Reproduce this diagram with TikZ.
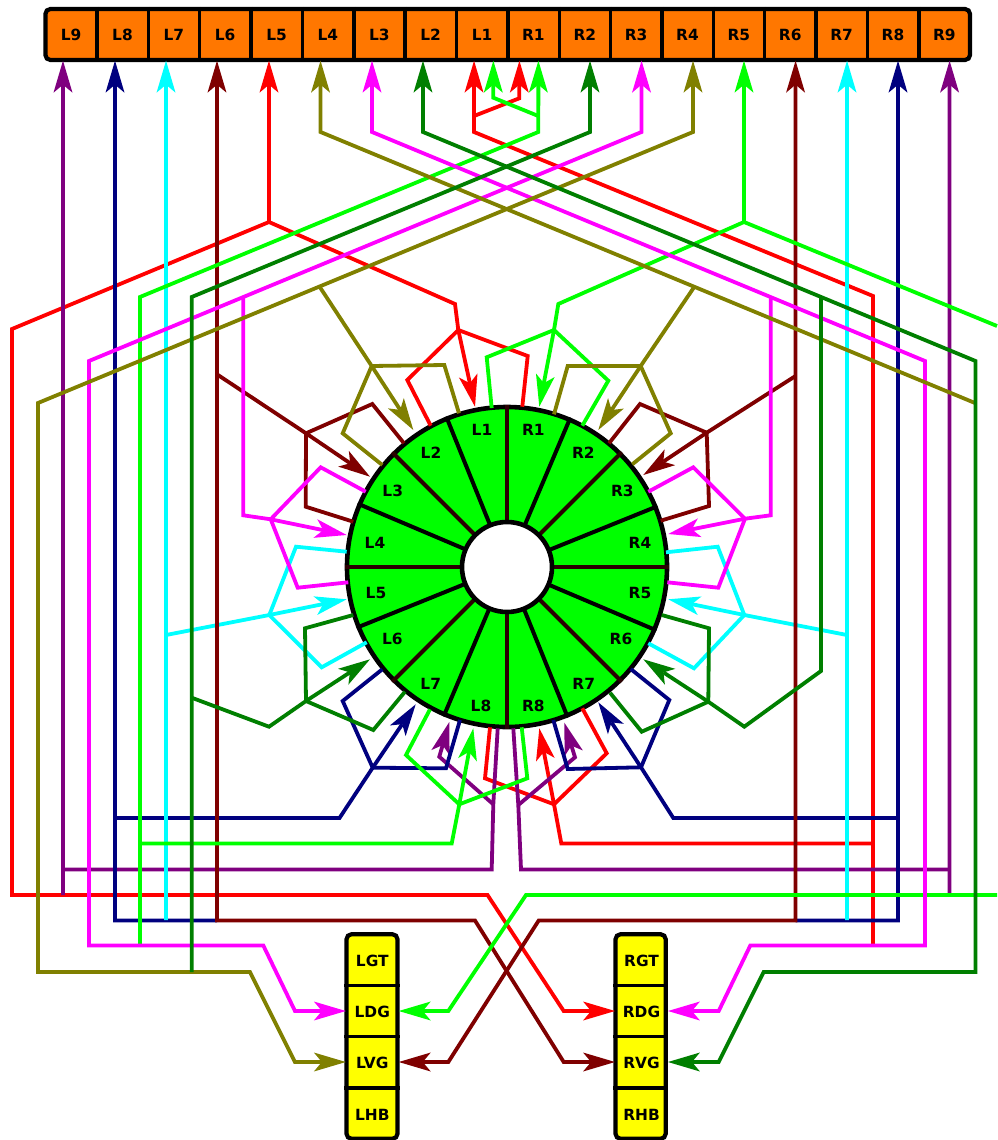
\documentclass[tikz,border=0pt]{standalone}
\usepackage{fontspec}
\setmainfont{DejaVu Sans}
\usetikzlibrary{arrows.meta}
\definecolor{wRed}{HTML}{FF0000}
\definecolor{wLime}{HTML}{00FF00}
\definecolor{wDark}{HTML}{007F00}
\definecolor{wMag}{HTML}{FF00FF}
\definecolor{wOlive}{HTML}{808000}
\definecolor{wMaroon}{HTML}{7F0000}
\definecolor{wCyan}{HTML}{00FFFF}
\definecolor{wNavy}{HTML}{00007F}
\definecolor{wPurple}{HTML}{7F007F}
\definecolor{stripOrange}{HTML}{FF7700}
\definecolor{ringGreen}{HTML}{00FF00}
\definecolor{barYellow}{HTML}{FFFF00}
\definecolor{darkSpoke}{HTML}{2A0000}
\tikzset{
  wire/.style={line width=3.8pt,line join=miter,miter limit=10},
  endtip/.style={-{Stealth[length=32pt,width=19pt,inset=8pt,line width=0pt]}},
  twotips/.style={{Stealth[length=32pt,width=19pt,inset=8pt,line width=0pt]}-{Stealth[length=32pt,width=19pt,inset=8pt,line width=0pt]}},
  lab/.style={font=\bfseries\fontsize{15.4}{17}\selectfont,text=black,inner sep=0pt},
  framebox/.style={draw=black,line width=4.2pt,rounded corners=5pt,inner sep=0pt},
  topcell/.style={lab,minimum width=51.37pt,minimum height=51pt},
  barcell/.style={lab,minimum width=52.5pt,minimum height=51pt,text height=13pt,text depth=0pt},
  divider/.style={draw=black,line width=3.4pt},
  spoke/.style={line width=4pt},
}
\begin{document}
\begin{tikzpicture}[x=1pt,y=-1pt]
\useasboundingbox (0,0) rectangle (997,1140);
% top strip
\node[framebox,fill=stripOrange,minimum width=924.6pt,minimum height=51pt] (strip) at (507.7,34.5) {};
\foreach \n [count=\i from 0] in {L9,L8,L7,L6,L5,L4,L3,L2,L1,R1,R2,R3,R4,R5,R6,R7,R8,R9}
  \node[topcell] (\n) at ({45.4+51.37*(\i+0.5)},35) {\n};
\foreach \n in {L9,L8,L7,L6,L5,L4,L3,L2,L1,R1,R2,R3,R4,R5,R6,R7,R8}
  \draw[divider] (\n.east |- strip.north) -- (\n.east |- strip.south);
% side bars
\node[framebox,fill=barYellow,minimum width=51pt,minimum height=204.5pt] (lbar) at (372,1036.5) {};
\node[framebox,fill=barYellow,minimum width=50.2pt,minimum height=204.5pt] (rbar) at (640.6,1036.5) {};
\foreach \n/\y in {LGT/960,LDG/1011,LVG/1062,LHB/1113.5}
  \node[barcell] (\n) at (372.3,\y) {\n};
\foreach \n/\y in {RGT/960,RDG/1011,RVG/1062,RHB/1113.5}
  \node[barcell] (\n) at (641.5,\y) {\n};
\foreach \n/\m in {LGT/LDG,LDG/LVG,LVG/LHB}
  \draw[divider] (lbar.west |- \m.north) -- (lbar.east |- \m.north);
\foreach \n/\m in {RGT/RDG,RDG/RVG,RVG/RHB}
  \draw[divider] (rbar.west |- \m.north) -- (rbar.east |- \m.north);
% ring
\node[circle,draw=black,fill=ringGreen,line width=4.6pt,minimum size=320pt,inner sep=0pt] (ring) at (507,567) {};
\foreach \a in {22.5,67.5,112.5,157.5,202.5,247.5,292.5,337.5}
  \draw[spoke,black] (ring.center) -- (ring.\a);
\foreach \a in {0,45,90,135,180,225,270,315}
  \draw[spoke,darkSpoke] (ring.center) -- (ring.\a);
\node[circle,draw=black,fill=white,line width=4.6pt,minimum size=90pt,inner sep=0pt] (hub) at (ring.center) {};
\foreach \n/\x/\y in {L1/482/430,L2/431/452.7,L3/392.7/491,L4/375/542.7,L5/376/592.7,L6/392.3/639,L7/430.7/684,L8/481/706,
  R1/533.3/430,R2/583.3/453,R3/622.3/491,R4/640/543,R5/640/592.7,R6/621/639,R7/583.7/684,R8/533.3/706}
  \node[lab] (s\n) at (\x,\y) {\n};
% ports on the top strip
\foreach \n/\c/\o in {pL9/L9/-8.1,pL8/L8/-7.45,pL7/L7/-7.8,pL6/L6/-8.2,pL5/L5/-7.6,pL4/L4/-7.4,pL3/L3/-7.3,pL2/L2/-7.7,pL1/L1/-8,pL1b/L1/11.3,
  pR1/R1/-14,pR1b/R1/5,pR2/R2/5.2,pR3/R3/5.4,pR4/R4/5.5,pR5/R5/5.1,pR6/R6/5.3,pR7/R7/5.4,pR8/R8/5,pR9/R9/5.2}
  \coordinate (\n) at ([xshift=\o pt]\c.south);
% junctions and ring contacts
\foreach \n/\x/\y in {
  jrA/458.3/330,ra/475/406.7,rb/430.7/425.7,rc/522.3/406.7,
  jrB/554/804.3,rd/539.3/728.3,re/490/727.3,rf/582.3/708.3,
  jlA/554/330,la/539.3/406.7,lb/582.3/425.7,lc/491.7/408,
  jlB/459.3/804.3,ld/473.3/728.3,le/430/709.3,lf/521.7/727.3,
  jdA/306/701,da/370/659.3,db/353.3/615,dc/405/691.7,
  jdB/708.3/701.7,dd/643.3/659.3,de/661.7/615,df/610/692.7,
  jmA/270.7/519.3,ma/346.7/535,mb/365.7/491.7,mc/348.3/582.3,
  jmB/745/518.7,md/668.3/534,me/648.3/491.7,mf/667.3/582.3,
  joA/371.7/366,oa/413.3/430,ob/459/413.3,oc/382.3/465,
  joB/640.7/366,od/598.3/430,oe/554/414.3,oF/632.3/464.3,
  jaA/306/433.3,aa/370/476.7,ab/404/443.3,ac/353.3/521.7,
  jaB/706.7/432.7,ad/643.3/475,ae/609/443.3,aF/660.7/520.7,
  jcA/269.3/615,ca/346.7/599.3,cb/346.7/551.7,cc/366.7/642.3,
  jcB/744.3/615,cd/668.3/599.3,ce/666/552.3,cf/648.3/643.3,
  jnA/372.7/767.7,na/415.7/704.3,nb/382.3/669.3,nc/460/720,
  jnB/641/767.3,nd/598.3/702.3,ne/630.7/669,nf/553.3/720,
  juA/493.3/804.3,ua/449.3/722,ub/497.7/728.3,
  juB/518.3/805,ud/564.3/722.7,ue/513.3/728.3,
  jL5/269/222,jR5/744/222,
  eLimeA/997/326,eLimeB/997/895,eOlive/975/403}
  \coordinate (\n) at (\x,\y);
% RED
\begin{scope}[wire,draw=wRed,color=wRed]
\draw[endtip] (jrA) -- (455,304) -- (jL5) -- (12,329) -- (12,895) -- (487.5,895) -- (563.7,1011) -- (RDG.west);
\draw[endtip] (jL5) -- (pL5);
\draw[endtip] (jrA) -- (ra);
\draw (rb) -- (407.3,380) -- (jrA) -- (527.7,356) -- (rc);
\draw[endtip] (873,945.5) -- (873,296) -- (474,132) -- (pL1);
\draw (873,843.5) -- (561.3,843.5) -- (jrB);
\draw[endtip] (jrB) -- (rd);
\draw (re) -- (485,778.3) -- (jrB) -- (606.7,753.3) -- (rf);
\draw[endtip] (474,116) -- (519.3,98.3) -- (pR1);
\end{scope}
% PURPLE
\begin{scope}[wire,color=wPurple]
\draw[endtip] (63,895) -- (pL9);
\draw (63,869.5) -- (491.7,869.5) -- (juA) -- (ub);
\draw[endtip] (juA) -- (439.3,756.7) -- (ua);
\draw[endtip] (949.5,895) -- (pR9);
\draw (949.5,869.5) -- (521,869.5) -- (juB) -- (ue);
\draw[endtip] (juB) -- (575,757.3) -- (ud);
\end{scope}
% NAVY
\begin{scope}[wire,color=wNavy]
\draw[endtip] (217,920.5) -- (115,920.5) -- (pL8);
\draw (115,818) -- (339.5,818) -- (jnA);
\draw[endtip] (jnA) -- (na);
\draw (nb) -- (342.7,701) -- (jnA) -- (446,768.3) -- (nc);
\draw[endtip] (795.5,920.5) -- (898,920.5) -- (pR8);
\draw (898,818) -- (673.3,818) -- (jnB);
\draw[endtip] (jnB) -- (nd);
\draw (ne) -- (669.3,700) -- (jnB) -- (567.7,769) -- (nf);
\end{scope}
% CYAN
\begin{scope}[wire,color=wCyan]
\draw[endtip] (166,920) -- (pL7);
\draw[endtip] (166,635) -- (jcA) -- (ca);
\draw (cb) -- (296,546.7) -- (jcA) -- (321.7,667.3) -- (cc);
\draw[endtip] (847,920) -- (pR7);
\draw[endtip] (847,635) -- (jcB) -- (cd);
\draw (ce) -- (717.7,546.7) -- (jcB) -- (694,668.3) -- (cf);
\end{scope}
% MAROON
\begin{scope}[wire,color=wMaroon]
\draw[twotips] (pL6) -- (217,920.5) -- (475,920.5) -- (563.7,1062) -- (RVG.west);
\draw[endtip] (218,375) -- (jaA) -- (aa);
\draw (ab) -- (372.3,404) -- (jaA) -- (305.7,506.7) -- (ac);
\draw[twotips] (pR6) -- (795.5,920.5) -- (538.7,920.5) -- (448.3,1062) -- (LVG.east);
\draw[endtip] (795.5,376) -- (jaB) -- (ad);
\draw (ae) -- (640,404) -- (jaB) -- (709,506) -- (aF);
\end{scope}
% LIME
\begin{scope}[wire,color=wLime]
\draw[endtip] (140,945.5) -- (140,297) -- (538.3,132) -- (pR1b);
\draw[endtip] (538.3,116) -- (493.3,97.7) -- (pL1b);
\draw (140,843.5) -- (451.7,843.5) -- (jlB);
\draw[endtip] (jlB) -- (ld);
\draw (le) -- (406,755) -- (jlB) -- (527.3,778.3) -- (lf);
\draw (jlA) -- (558.3,304) -- (jR5) -- (eLimeA);
\draw[endtip] (jR5) -- (pR5);
\draw[endtip] (jlA) -- (la);
\draw (lb) -- (608.3,380.7) -- (jlA) -- (486.7,357.3) -- (lc);
\draw[endtip] (eLimeB) -- (526,895) -- (448.3,1011) -- (LDG.east);
\end{scope}
% MAGENTA
\begin{scope}[wire,color=wMag]
\draw[twotips] (pL3) -- (372,132) -- (925,361) -- (925,945.5) -- (750.3,945.5) -- (718.7,1011) -- (RDG.east);
\draw[endtip] (770.7,296.7) -- (770.7,515.3) -- (jmB) -- (md);
\draw (me) -- (693.3,467.3) -- (jmB) -- (718.3,587.7) -- (mf);
\draw[twotips] (pR3) -- (641.5,132) -- (89,361) -- (89,945.5) -- (263.3,945.5) -- (295,1011) -- (LDG.west);
\draw[endtip] (243.3,296.7) -- (243.3,515.3) -- (jmA) -- (ma);
\draw (mb) -- (320.7,467.3) -- (jmA) -- (297.7,587.7) -- (mc);
\end{scope}
% OLIVE
\begin{scope}[wire,color=wOlive]
\draw[endtip] (eOlive) -- (320.5,132) -- (pL4);
\draw[endtip] (694,287.3) -- (joB) -- (od);
\draw (oe) -- (567.7,366) -- (joB) -- (670.7,433.3) -- (oF);
\draw[twotips] (pR4) -- (693,132) -- (38,403) -- (38,972) -- (250,972) -- (295,1062) -- (LVG.west);
\draw[endtip] (320,287.3) -- (joA) -- (oa);
\draw (ob) -- (444.3,365) -- (joA) -- (342.7,433.3) -- (oc);
\end{scope}
% DARK GREEN
\begin{scope}[wire,color=wDark]
\draw[endtip] (191.7,972) -- (191.7,297) -- (590,132) -- (pR2);
\draw (191.7,697.7) -- (269,726.7) -- (jdA);
\draw[endtip] (jdA) -- (da);
\draw (db) -- (305,628.3) -- (jdA) -- (373.3,730) -- (dc);
\draw[twotips] (pL2) -- (423,132) -- (975.5,361) -- (975.5,972) -- (763.7,972) -- (718.7,1062) -- (RVG.east);
\draw (821,297) -- (821,671) -- (744.3,726.7) -- (jdB);
\draw[endtip] (jdB) -- (dd);
\draw (de) -- (709,628.3) -- (jdB) -- (641.7,731.7) -- (df);
\end{scope}
\end{tikzpicture}
\end{document}
